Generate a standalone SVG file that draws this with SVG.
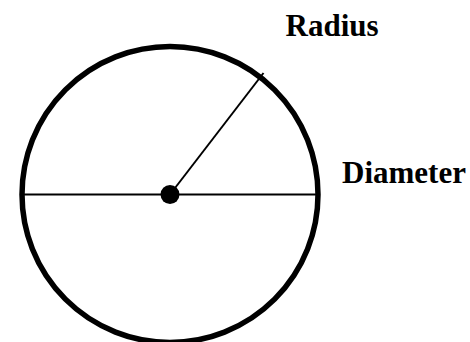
<svg xmlns="http://www.w3.org/2000/svg" width="470" height="342" viewBox="0 0 470 342">
<style>
.lbl{font-family:"Liberation Serif","Times New Roman",serif;font-weight:bold;font-size:31px;fill:#000}
.ln{stroke:#000;stroke-width:2;fill:none}
</style>
<rect width="470" height="342" fill="#fff"/>
<g id="circle">
<circle cx="170" cy="194.5" r="148" fill="none" stroke="#000" stroke-width="5.5"/>
</g>
<g id="connectors">
<line class="ln" x1="22" y1="194.5" x2="318" y2="194.5"/>
<line class="ln" x1="170" y1="194.5" x2="263.5" y2="73"/>
</g>
<g id="center">
<circle cx="170" cy="194.5" r="9.5" fill="#000"/>
</g>
<g id="radius-label"><text class="lbl" x="285.5" y="36.3">Radius</text></g>
<g id="diameter-label"><text class="lbl" x="342" y="183.3">Diameter</text></g>
</svg>
